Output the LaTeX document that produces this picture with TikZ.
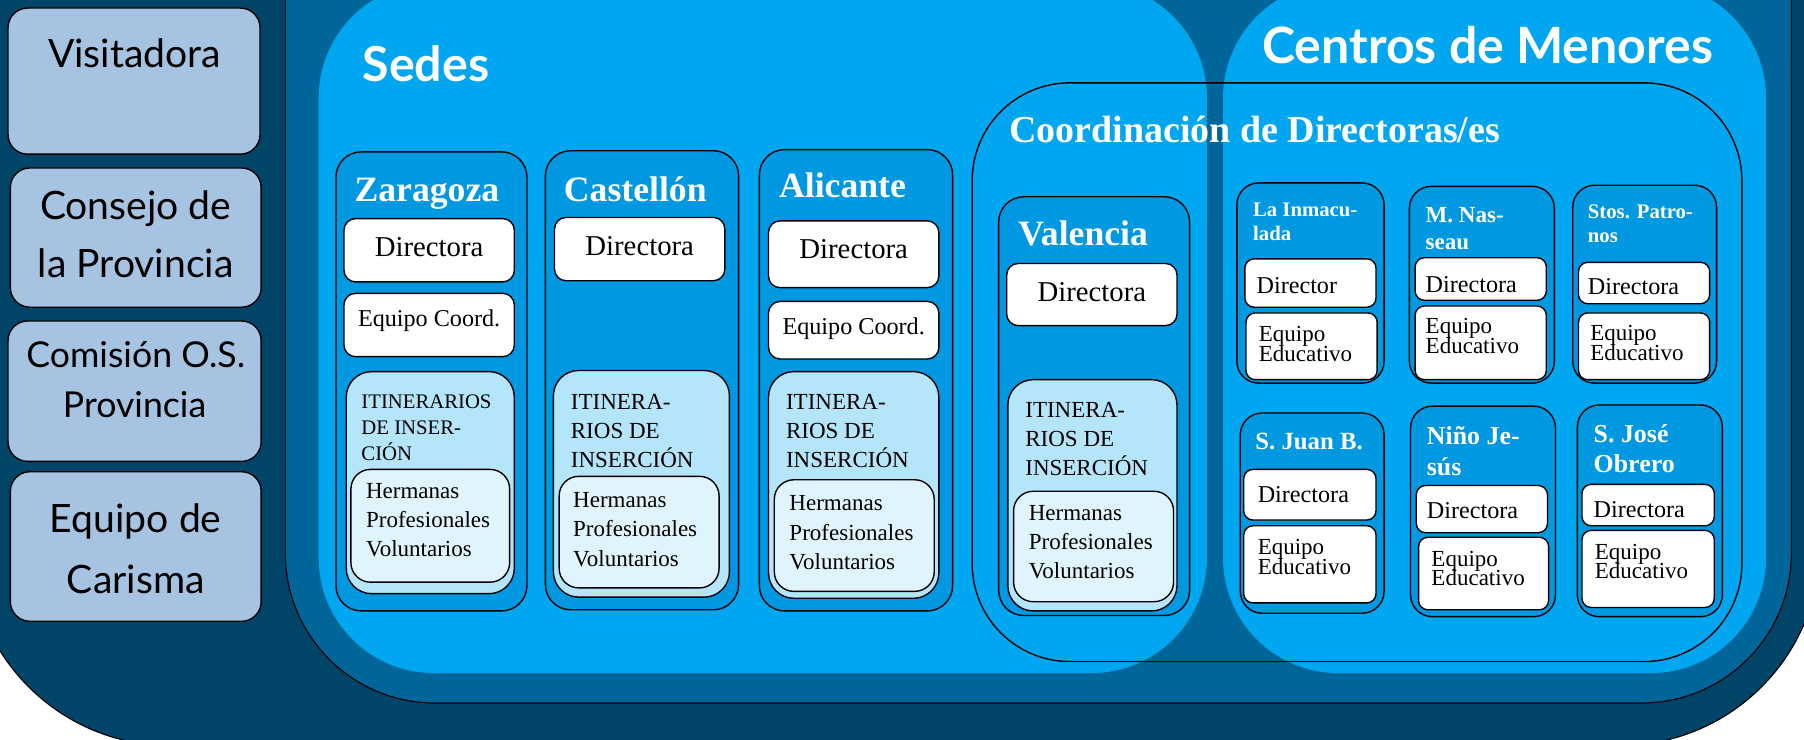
\documentclass[tikz,border=0pt]{standalone}
\usepackage{fontspec}
\setmainfont{Liberation Serif}
\newfontfamily\gillfont{Lato}
\tikzset{
  box/.style={draw=black, line width=1.2pt},
  leftbox/.style={box, fill=SteelBox, rounded corners=17pt},
  colbox/.style={box, fill=ColBlue, rounded corners=22pt},
  ctrbox/.style={box, fill=ColBlue, rounded corners=19pt},
  whitebox/.style={box, fill=white, rounded corners=10pt},
  itbox/.style={box, fill=IceBlue, rounded corners=22pt},
  palebox/.style={box, fill=PaleBlue, rounded corners=17pt},
  zonetitle/.style={text=white, inner sep=0pt, anchor=base west, font=\gillfont\bfseries\fontsize{42}{42}\selectfont},
  lefttxt/.style={inner sep=0pt, anchor=base, font=\gillfont\fontsize{34}{34}\selectfont},
  seat/.style={text=white, inner sep=0pt, anchor=base west, font=\bfseries\fontsize{31}{31}\selectfont},
  centre/.style={text=white, inner sep=0pt, anchor=base west, font=\bfseries\fontsize{#1}{#1}\selectfont},
  role/.style={inner sep=0pt, anchor=base, font=\fontsize{25}{25}\selectfont},
  member/.style={inner sep=0pt, anchor=base west, font=\fontsize{20}{20}\selectfont},
  staff/.style={inner sep=0pt, anchor=base west, font=\fontsize{#1}{#1}\selectfont}
}
\begin{document}
\begin{tikzpicture}[x=1pt, y=-1pt]
\definecolor{NavyBg}{RGB}{0,69,104}
\definecolor{MidBlue}{RGB}{0,102,153}
\definecolor{SkyBlue}{RGB}{0,166,240}
\definecolor{ColBlue}{RGB}{0,152,224}
\definecolor{IceBlue}{RGB}{181,229,251}
\definecolor{PaleBlue}{RGB}{224,244,253}
\definecolor{SteelBox}{RGB}{166,195,225}
\useasboundingbox (0,0) rectangle (1568,643);
\clip (0,0) rectangle (1568,643);
\fill[white] (0,0) rectangle (1568,643);
\draw[line width=1pt, fill=NavyBg, rounded corners=174pt] (-26,-200) rectangle (1582,648);
\draw[line width=1pt, fill=MidBlue, rounded corners=130pt] (248,-200) rectangle (1557,611);
\fill[SkyBlue, rounded corners=100pt] (277,-15) rectangle (1049,585);
\fill[SkyBlue, rounded corners=100pt] (1063,-15) rectangle (1535,585);
\draw[box, rounded corners=85pt] (845,72) rectangle (1514,575);
\node[zonetitle] (sedes) at (315,71) {Sedes};
\node[zonetitle, font=\gillfont\bfseries\fontsize{43.5}{43.5}\selectfont] (centros) at (1097,55) {Centros de Menores};
\node[seat, font=\bfseries\fontsize{33}{33}\selectfont] (coord) at (877,124) {Coordinación de Directoras/es};

\draw[leftbox] (7,7) rectangle (226,134);
\draw[leftbox] (9,146) rectangle (227,267);
\draw[leftbox] (7,279) rectangle (227,401);
\draw[leftbox] (9,410) rectangle (227,540);
\node[lefttxt] (visit) at (117,59) {Visitadora};
\node[lefttxt] (cons1) at (118,191) {Consejo de};
\node[lefttxt] (cons2) at (118,241) {la Provincia};
\node[lefttxt, font=\gillfont\fontsize{31}{31}\selectfont] (com1) at (118,319) {Comisión O.S.};
\node[lefttxt, font=\gillfont\fontsize{31}{31}\selectfont] (com2) at (117,363) {Provincia};
\node[lefttxt] (eq1) at (118,463) {Equipo de};
\node[lefttxt] (eq2) at (118,516) {Carisma};

\draw[colbox] (292,132) rectangle (458,531);
\draw[colbox] (474,131) rectangle (642,530);
\draw[colbox] (660,130) rectangle (828,531);
\draw[colbox] (868,171) rectangle (1034,535);
\node[seat] (zar) at (308,175) {Zaragoza};
\node[seat] (cas) at (490,175) {Castellón};
\node[seat] (ali) at (677,172) {Alicante};
\node[seat] (val) at (885,213) {Valencia};
\foreach \n/\a/\b/\c/\d/\y in {zar/299/190/447/245/223, cas/482/189/630/244/222, ali/668/192/816/250/225, val/875/229/1023/283/262}{
\draw[whitebox] (\a,\b) rectangle (\c,\d);
\node[role] (\n-dir) at ({(\a+\c)/2},\y) {Directora};
}
\foreach \n/\a/\b/\c/\d/\y in {zar/299/255/447/310/284, ali/668/262/816/312/291}{
\draw[whitebox] (\a,\b) rectangle (\c,\d);
\node[role, font=\fontsize{21}{21}\selectfont] (\n-eq) at ({(\a+\c)/2},\y) {Equipo Coord.};
}
\draw[itbox] (301,323) rectangle (447,516);
\draw[itbox] (481,322) rectangle (634,519);
\draw[itbox] (668,323) rectangle (816,520);
\draw[itbox] (876,330) rectangle (1023,531);
\draw[palebox] (305,408) rectangle (443,506);
\draw[palebox] (486,414) rectangle (625,511);
\draw[palebox] (673,417) rectangle (812,514);
\draw[palebox] (881,427) rectangle (1020,523);
\node[member, font=\fontsize{18}{18}\selectfont] (zar-it1) at (314,355) {ITINERARIOS};
\node[member, font=\fontsize{18}{18}\selectfont] (zar-it2) at (314,378) {DE INSER-};
\node[member, font=\fontsize{18}{18}\selectfont] (zar-it3) at (314,400) {CIÓN};
\foreach \n/\x/\y in {cas/496/356, ali/683/356, val/891/363}{
\node[member] (\n-it1) at (\x,\y) {ITINERA-};
\node[member] (\n-it2) at (\x,\y+25) {RIOS DE};
\node[member] (\n-it3) at (\x,\y+50) {INSERCIÓN};
}
\foreach \n/\x/\y in {zar/318/433, cas/498/441, ali/686/444, val/894/452}{
\node[member] (\n-her) at (\x,\y) {Hermanas};
\node[member] (\n-pro) at (\x,\y+25.5) {Profesionales};
\node[member] (\n-vol) at (\x,\y+51) {Voluntarios};
}

\draw[ctrbox] (1075,159) rectangle (1203,333);
\draw[ctrbox] (1225,162) rectangle (1351,333);
\draw[ctrbox] (1367,161) rectangle (1492,333);
\draw[ctrbox] (1078,359) rectangle (1203,533);
\draw[ctrbox] (1226,353) rectangle (1352,536);
\draw[ctrbox] (1371,352) rectangle (1497,536);
\node[centre=18] (inm1) at (1089,188) {La Inmacu-};
\node[centre=18] (inm2) at (1089,209) {lada};
\node[centre=20] (nas1) at (1239,193) {M. Nas-};
\node[centre=20] (nas2) at (1239,217) {seau};
\node[centre=18] (pat1) at (1380,190) {Stos. Patro-};
\node[centre=18] (pat2) at (1380,211) {nos};
\node[centre=21.5] (jua1) at (1091,391) {S. Juan B.};
\node[centre=22.5] (nin1) at (1240,386) {Niño Je-};
\node[centre=22.5] (nin2) at (1240,413) {sús};
\node[centre=22.5] (jos1) at (1385,385) {S. José};
\node[centre=22.5] (jos2) at (1385,411) {Obrero};
\foreach \n/\a/\b/\c/\d/\tx/\ty/\w in {inm/1082/225/1196/267/1092/255/Director, nas/1230/224/1344/261/1239/254/Directora, pat/1372/228/1486/264/1380/256/Directora, jua/1081/408/1196/452/1093/437/Directora, nin/1231/422/1345/463/1240/451/Directora, jos/1375/421/1490/457/1385/450/Directora}{
\draw[whitebox, rounded corners=8pt] (\a,\b) rectangle (\c,\d);
\node[staff=21] (\n-dir) at (\tx,\ty) {\w};
}
\foreach \n/\a/\b/\c/\d/\tx/\ty in {inm/1083/272/1197/330/1094/297, nas/1230/266/1344/330/1239/290, pat/1372/272/1486/330/1382/296, jua/1081/457/1196/524/1093/482, nin/1233/467/1346/530/1244/492, jos/1375/461/1490/528/1386/486}{
\draw[whitebox, rounded corners=8pt] (\a,\b) rectangle (\c,\d);
\node[staff=20] (\n-eq1) at (\tx,\ty) {Equipo};
\node[staff=20] (\n-eq2) at (\tx,\ty+17) {Educativo};
}
\end{tikzpicture}
\end{document}
